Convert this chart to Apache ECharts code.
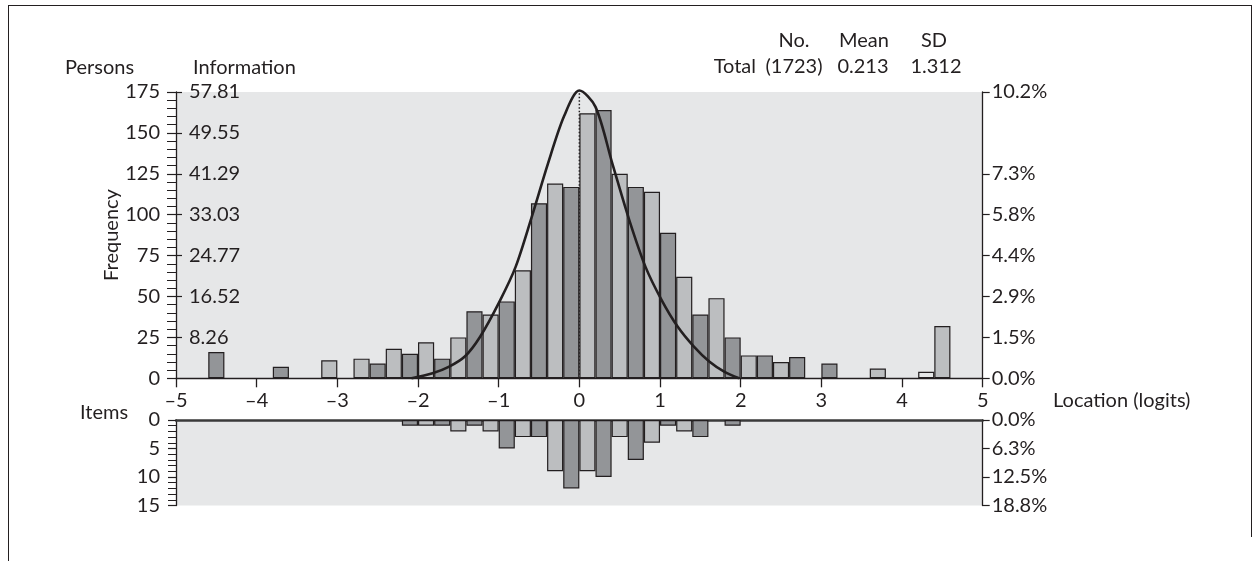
<!DOCTYPE html>
<html>
<head>
<meta charset="utf-8">
<script src="https://cdn.jsdelivr.net/npm/echarts@6/dist/echarts.min.js"></script>
<style>
  html, body { margin: 0; padding: 0; background: #ffffff; }
  #chart { width: 1260px; height: 561px; }
</style>
</head>
<body>
<div id="chart"></div>
<script>
// Person-item location distribution: persons (top) and items (bottom), 0.2-logit bins from -5 to 5
const BIN_START = -5;
const BIN_WIDTH = 0.2;
const BIN_COUNT = 50;

// Persons per bin
const personCounts = [
  0, 0, 16, 0, 0, 0, 7, 0, 0, 11,
  0, 12, 9, 18, 15, 22, 12, 25, 41, 39,
  47, 66, 107, 119, 117, 162, 164, 125, 117, 114,
  89, 62, 39, 49, 25, 14, 14, 10, 13, 0,
  9, 0, 0, 6, 0, 0, 4, 32, 0, 0
];

// Items per bin
const itemCounts = [
  0, 0, 0, 0, 0, 0, 0, 0, 0, 0,
  0, 0, 0, 0, 1, 1, 1, 2, 1, 2,
  5, 3, 3, 9, 12, 9, 10, 3, 7, 4,
  1, 2, 3, 0, 1, 0, 0, 0, 0, 0,
  0, 0, 0, 0, 0, 0, 0, 0, 0, 0
];

// Bin drawn as an outline only (extreme persons)
const hollowBins = [46];

// Test information curve (location in logits, information)
const curveX    = [-2.08, -1.82, -1.62, -1.42, -1.23, -0.99, -0.79, -0.59, -0.39, -0.19, 0, 0.2, 0.41, 0.62, 0.82, 1.02, 1.22, 1.42, 1.61, 1.8, 1.98];
const curveInfo = [0, 1.0, 2.3, 4.4, 8.4, 15.5, 22.5, 32.6, 43.3, 52.9, 58.1, 54.8, 43.3, 31.9, 22.5, 15.8, 10.4, 6.4, 3.4, 1.3, 0];

// Summary statistics
const summaryHeads = ['No.', 'Mean', 'SD'];
const summaryTotal = ['(1723)', '0.213', '1.312'];

// Axis tick labels
const infoMax = 57.81;
const infoTickValues = [8.26, 16.52, 24.77, 33.03, 41.29, 49.55, 57.81];
const personPctTicks = [0, 25, 50, 75, 100, 125, 175];
const personPctLabels = ['0.0%', '1.5%', '2.9%', '4.4%', '5.8%', '7.3%', '10.2%'];
const itemPctTicks = [0, 5, 10, 15];
const itemPctLabels = ['0.0%', '6.3%', '12.5%', '18.8%'];

const INK = '#231f20';
const DARK = '#939598';
const LIGHT = '#bcbec0';
const PANEL = '#e6e7e8';
const FONT = 'Lato';
const FS = 20;

const categories = [];
for (let i = 0; i < BIN_COUNT; i++) categories.push((BIN_START + i * BIN_WIDTH).toFixed(1));

function barFill(p) {
  if (hollowBins.indexOf(p.dataIndex) >= 0) return PANEL;
  return p.dataIndex % 2 === 0 ? DARK : LIGHT;
}
const nz = v => (v === 0 ? null : v);

const curveData = curveX.map((x, i) => [x, curveInfo[i]]);
const peakIdx = curveInfo.indexOf(Math.max.apply(null, curveInfo));
const peakLine = [[curveX[peakIdx], 0], [curveX[peakIdx], curveInfo[peakIdx]]];

const txt = { fontFamily: FONT, fontSize: FS, fill: INK };
const label = { fontFamily: FONT, fontSize: FS, color: INK };

const chart = echarts.init(document.getElementById('chart'), null, { renderer: 'canvas' });
chart.setOption({
  animation: false,
  backgroundColor: '#ffffff',
  textStyle: { fontFamily: FONT, color: INK },
  grid: [
    { left: 176, top: 92, width: 806.7, height: 286.3, show: true, backgroundColor: PANEL, borderWidth: 0 },
    { left: 176, top: 420, width: 806.7, height: 85.5, show: true, backgroundColor: PANEL, borderWidth: 0 }
  ],
  xAxis: [
    { type: 'category', gridIndex: 0, data: categories, show: false },
    {
      type: 'value', gridIndex: 0, min: -5, max: 5, interval: 1, position: 'bottom',
      axisLine: { show: true, onZero: false, lineStyle: { color: INK, width: 1.3 } },
      axisTick: { show: true, length: 9, lineStyle: { color: INK, width: 1.3 } },
      axisLabel: Object.assign({ margin: 12, formatter: v => String(v).replace('-', '\u2013') }, label),
      splitLine: { show: false }
    },
    {
      type: 'category', gridIndex: 1, data: categories, position: 'top',
      axisLine: { show: true, onZero: false, lineStyle: { color: '#3a3a3a', width: 2.5 } },
      axisTick: { show: false }, axisLabel: { show: false }, splitLine: { show: false }
    }
  ],
  yAxis: [
    {
      type: 'value', gridIndex: 0, min: 0, max: 175, interval: 25, position: 'left',
      axisLine: { show: true, onZero: false, lineStyle: { color: INK, width: 1.3 } },
      axisTick: { show: true, length: 9, lineStyle: { color: INK, width: 1.2 } },
      minorTick: { show: true, splitNumber: 5, length: 9, lineStyle: { color: INK, width: 1 } },
      axisLabel: Object.assign({ margin: 16 }, label),
      splitLine: { show: false }, minorSplitLine: { show: false }
    },
    {
      type: 'value', gridIndex: 0, min: 0, max: infoMax, position: 'left',
      axisLine: { show: false, onZero: false },
      axisTick: { show: true, inside: true, length: 6, customValues: infoTickValues, lineStyle: { color: INK, width: 1.2 } },
      axisLabel: Object.assign({ inside: true, margin: 13, customValues: infoTickValues, formatter: v => v.toFixed(2) }, label),
      splitLine: { show: false }
    },
    {
      type: 'value', gridIndex: 0, min: 0, max: 175, position: 'right',
      axisLine: { show: true, onZero: false, lineStyle: { color: INK, width: 1.3 } },
      axisTick: { show: true, length: 7, customValues: personPctTicks, lineStyle: { color: INK, width: 1.2 } },
      axisLabel: Object.assign({ margin: 9, customValues: personPctTicks,
        formatter: v => personPctLabels[personPctTicks.indexOf(v)] }, label),
      splitLine: { show: false }
    },
    {
      type: 'value', gridIndex: 1, min: 0, max: 15, interval: 5, inverse: true, position: 'left',
      axisLine: { show: true, onZero: false, lineStyle: { color: INK, width: 1.3 } },
      axisTick: { show: true, length: 8, lineStyle: { color: INK, width: 1.2 } },
      minorTick: { show: true, splitNumber: 5, length: 8, lineStyle: { color: INK, width: 1 } },
      axisLabel: Object.assign({ margin: 16 }, label),
      splitLine: { show: false }, minorSplitLine: { show: false }
    },
    {
      type: 'value', gridIndex: 1, min: 0, max: 15, inverse: true, position: 'right',
      axisLine: { show: true, onZero: false, lineStyle: { color: INK, width: 1.3 } },
      axisTick: { show: true, length: 7, customValues: itemPctTicks, lineStyle: { color: INK, width: 1.2 } },
      axisLabel: Object.assign({ margin: 9, customValues: itemPctTicks,
        formatter: v => itemPctLabels[itemPctTicks.indexOf(v)] }, label),
      splitLine: { show: false }
    }
  ],
  series: [
    {
      type: 'line', xAxisIndex: 1, yAxisIndex: 1, data: peakLine, symbol: 'none', z: 1,
      lineStyle: { color: INK, width: 1.5, type: [1.5, 2] }, silent: true
    },
    {
      type: 'bar', xAxisIndex: 0, yAxisIndex: 0, data: personCounts.map(nz),
      barCategoryGap: '0%', z: 2,
      itemStyle: { color: barFill, borderColor: INK, borderWidth: 1.2 }
    },
    {
      type: 'bar', xAxisIndex: 2, yAxisIndex: 3, data: itemCounts.map(nz),
      barCategoryGap: '0%', z: 2,
      itemStyle: { color: barFill, borderColor: INK, borderWidth: 1.2 }
    },
    {
      type: 'line', xAxisIndex: 1, yAxisIndex: 1, data: curveData, symbol: 'none',
      smooth: 0.3, clip: false, z: 5,
      lineStyle: { color: INK, width: 2.6 }
    }
  ],
  graphic: [
    { type: 'line', shape: { x1: 8, y1: 5.5, x2: 1252, y2: 5.5 }, style: { stroke: INK, lineWidth: 1 } },
    { type: 'line', shape: { x1: 8.5, y1: 5, x2: 8.5, y2: 561 }, style: { stroke: INK, lineWidth: 1 } },
    { type: 'line', shape: { x1: 1251.5, y1: 5, x2: 1251.5, y2: 537 }, style: { stroke: INK, lineWidth: 1 } },

    { type: 'text', x: 794, y: 41, style: Object.assign({ text: summaryHeads[0], align: 'center', verticalAlign: 'middle' }, txt) },
    { type: 'text', x: 864, y: 41, style: Object.assign({ text: summaryHeads[1], align: 'center', verticalAlign: 'middle' }, txt) },
    { type: 'text', x: 934, y: 41, style: Object.assign({ text: summaryHeads[2], align: 'center', verticalAlign: 'middle' }, txt) },
    { type: 'text', x: 756, y: 67, style: Object.assign({ text: 'Total', align: 'right', verticalAlign: 'middle' }, txt) },
    { type: 'text', x: 794, y: 67, style: Object.assign({ text: summaryTotal[0], align: 'center', verticalAlign: 'middle' }, txt) },
    { type: 'text', x: 863, y: 67, style: Object.assign({ text: summaryTotal[1], align: 'center', verticalAlign: 'middle' }, txt) },
    { type: 'text', x: 936, y: 67, style: Object.assign({ text: summaryTotal[2], align: 'center', verticalAlign: 'middle' }, txt) },

    { type: 'text', x: 65, y: 68, style: Object.assign({ text: 'Persons', align: 'left', verticalAlign: 'middle' }, txt) },
    { type: 'text', x: 193, y: 68, style: Object.assign({ text: 'Information', align: 'left', verticalAlign: 'middle' }, txt) },
    { type: 'text', x: 112, y: 235, rotation: Math.PI / 2, style: Object.assign({ text: 'Frequency', align: 'center', verticalAlign: 'middle' }, txt) },
    { type: 'text', x: 80, y: 413, style: Object.assign({ text: 'Items', align: 'left', verticalAlign: 'middle' }, txt) },
    { type: 'text', x: 1053, y: 401, style: Object.assign({ text: 'Location (logits)', align: 'left', verticalAlign: 'middle' }, txt) }
  ]
});
</script>
</body>
</html>
